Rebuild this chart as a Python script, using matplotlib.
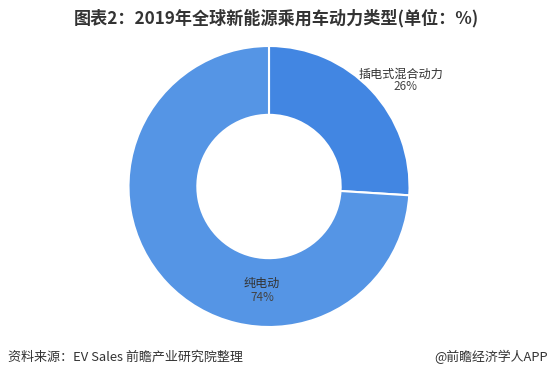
import matplotlib.pyplot as plt

plt.rcParams['font.family'] = ['Noto Sans CJK SC', 'DejaVu Sans']

labels = ['插电式混合动力', '纯电动']
shares = [26, 74]
colors = ['#4286e2', '#5595e5']

fig = plt.figure(figsize=(5.52, 3.78), dpi=100)

# donut axes: centre ~ (268.5, 186.5) px, radius ~140 px
ax = fig.add_axes([128.5 / 552, 51 / 378, 281 / 552, 281 / 378])
ax.pie(shares, colors=colors, startangle=90, counterclock=False,
       wedgeprops=dict(width=0.49, edgecolor='white', linewidth=1.5))
ax.set_xlim(-1, 1)
ax.set_ylim(-1, 1)
ax.set_aspect('equal')
ax.axis('off')

# slice labels
ax.text(0.94, 0.80, labels[0], ha='center', va='center', fontsize=8.7, color='#333333')
ax.text(0.97, 0.71, f'{shares[0]}%', ha='center', va='center', fontsize=8.5, color='#444444')
ax.text(-0.05, -0.69, labels[1], ha='center', va='center', fontsize=8.7, color='#333333')
ax.text(-0.05, -0.79, f'{shares[1]}%', ha='center', va='center', fontsize=8.5, color='#444444')

fig.text(276 / 552, 1 - 18 / 378, '图表2：2019年全球新能源乘用车动力类型(单位：%)',
         ha='center', va='center', fontsize=12.3, fontweight='bold', color='#333333')
fig.text(8 / 552, 1 - 357 / 378, '资料来源：EV Sales 前瞻产业研究院整理',
         ha='left', va='center', fontsize=9.4, color='#333333')
fig.text(548 / 552, 1 - 357 / 378, '@前瞻经济学人APP',
         ha='right', va='center', fontsize=9.3, color='#333333')

fig.savefig('out.png', dpi=100)
